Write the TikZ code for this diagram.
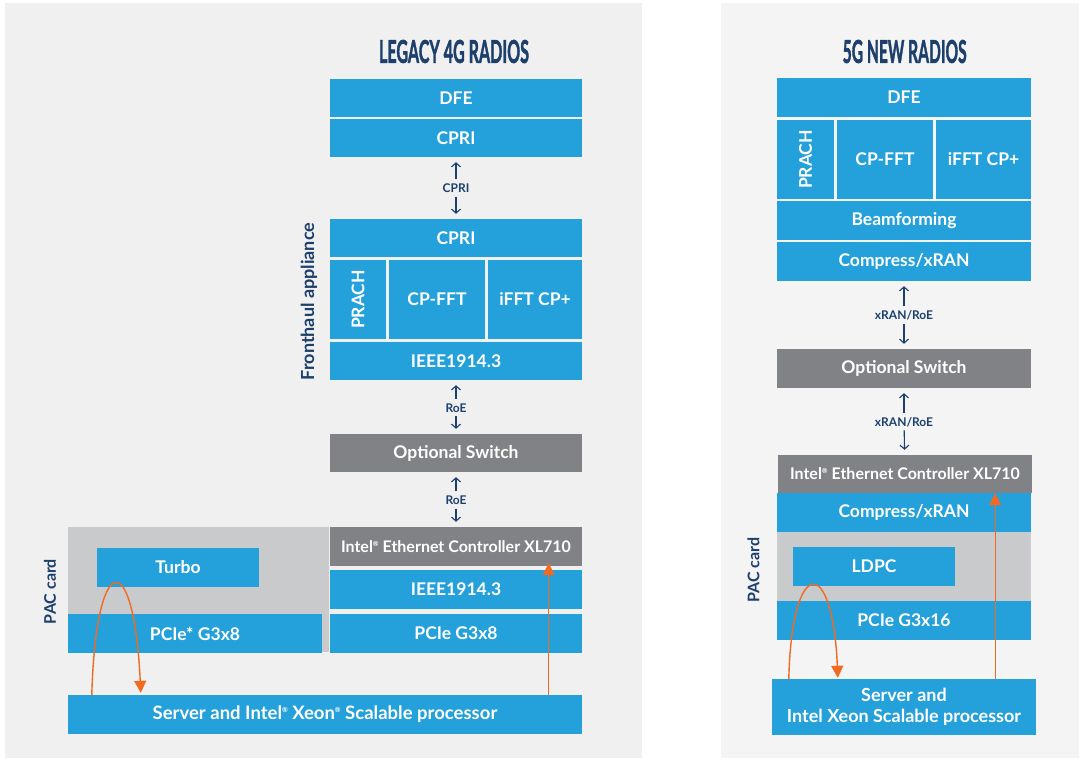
\documentclass[tikz,border=0pt]{standalone}
\usepackage{fontspec}
\setmainfont{Lato}
\newfontfamily\ttlfont[BoldFeatures={FakeBold=2}]{Lato}
\usepackage{graphicx}
\usetikzlibrary{arrows.meta}

\definecolor{fhblue}{HTML}{24A0DA}
\definecolor{fhgray}{HTML}{818285}
\definecolor{pacgray}{HTML}{C9CACC}
\definecolor{fhnavy}{HTML}{1C3F6B}
\definecolor{fhorange}{HTML}{F26A21}
\definecolor{panelL}{HTML}{F0F0F0}
\definecolor{panelR}{HTML}{F4F4F4}

\newcommand{\reg}{\raisebox{0.75ex}{\fontsize{7}{7}\selectfont ®}}

\begin{document}
\begin{tikzpicture}[x=1pt, y=-1pt,
    sz/.style 2 args = {minimum width=#1pt, minimum height=#2pt},
    blk/.style = {fill=fhblue, text=white, inner sep=0pt,
                  font=\bfseries\fontsize{17.5}{21}\selectfont},
    gry/.style = {blk, fill=fhgray},
    pac/.style = {fill=pacgray, inner sep=0pt},
    ttl/.style = {text=fhnavy, inner sep=0pt},
    lbl/.style = {text=fhnavy, inner sep=4pt, text height=9pt, text depth=0pt,
                  font=\bfseries\fontsize{12}{14}\selectfont},
    side/.style = {text=fhnavy, rotate=90, font=\bfseries\fontsize{18}{21}\selectfont},
    link/.style = {draw=fhnavy, line width=1.1pt, shorten >=5pt,
                   -{Straight Barb[length=4pt,width=9pt]}},
    flow/.style = {draw=fhorange, line width=1.4pt,
                   -{Triangle[length=12pt,width=12pt]}}]

    \useasboundingbox (0,0) rectangle (1079,758);
    \fill[white] (0,0) rectangle (1079,758);
    \fill[panelL] (5,3) rectangle (642,758);
    \fill[panelR] (721,3) rectangle (1079,758);

    % legacy 4G
    \node[ttl] (ttlL) at (454,51.5) {\resizebox{150pt}{23pt}{\ttlfont\bfseries LEGACY 4G RADIOS}};
    \node[blk, sz={252}{38}] (dfeL) at (456,98) {DFE};
    \node[blk, sz={252}{38}] (cpriL) at (456,138) {CPRI};
    \node[lbl] (cpriA) at (456,188) {CPRI};
    \node[blk, sz={252}{38}] (cpriFL) at (456,238) {CPRI};
    \node[blk, sz={56}{79}] (prachL) at (358,299.5) {\rotatebox{90}{PRACH}};
    \node[blk, sz={96}{79}] (cpfftL) at (437,299.5) {CP-FFT};
    \node[blk, sz={94}{79}] (ifftL) at (535,299.5) {iFFT CP+};
    \node[blk, sz={252}{38}] (ieeeL) at (456,361) {IEEE1914.3};
    \node[lbl] (roeA) at (456,407.5) {RoE};
    \node[gry, sz={252}{38}] (switchL) at (456,453) {Optional Switch};
    \node[lbl] (roeB) at (456,500) {RoE};
    \node[side] (fronthaul) at (309,301.5) {Fronthaul appliance};

    \node[pac, sz={261}{125}] (pacL) at (198.5,589.5) {};
    \node[blk, sz={162}{39}] (turbo) at (178,567.5) {Turbo};
    \node[blk, sz={254}{39}] (pcieS) at (195,633.5) {PCIe* G3x8};
    \node[gry, sz={252}{39}, font=\bfseries\fontsize{16}{19}\selectfont] (ethL) at (456,546.5)
        {Intel\reg{} Ethernet Controller XL710};
    \node[blk, sz={252}{39}] (ieee2L) at (456,589.5) {IEEE1914.3};
    \node[blk, sz={252}{39}] (pcieL) at (456,633.5) {PCIe G3x8};
    \node[blk, sz={514}{39}, font=\bfseries\fontsize{18.5}{21}\selectfont] (serverL) at (325,714.5)
        {Server and Intel\reg{} Xeon\reg{} Scalable processor};
    \node[side, font=\bfseries\fontsize{16}{19}\selectfont] (pacLbl) at (50,591.5) {PAC card};

    % 5G NR
    \node[ttl] (ttlR) at (904.7,51.5) {\resizebox{124pt}{23pt}{\ttlfont\bfseries 5G NEW RADIOS}};
    \node[blk, sz={254}{39}] (dfeR) at (904,97.5) {DFE};
    \node[blk, sz={57}{79}] (prachR) at (805.5,159.5) {\rotatebox{90}{PRACH}};
    \node[blk, sz={96}{79}] (cpfftR) at (885,159.5) {CP-FFT};
    \node[blk, sz={95}{79}] (ifftR) at (983.5,159.5) {iFFT CP+};
    \node[blk, sz={254}{39}] (beamR) at (904,220.5) {Beamforming};
    \node[blk, sz={254}{39}] (compR) at (904,261.5) {Compress/xRAN};
    \node[lbl] (xranA) at (904,315) {xRAN/RoE};
    \node[gry, sz={254}{39}] (switchR) at (904,368.5) {Optional Switch};
    \node[lbl] (xranB) at (904,421.5) {xRAN/RoE};
    \node[gry, sz={254}{38}, font=\bfseries\fontsize{16}{19}\selectfont] (ethR) at (905,474)
        {Intel\reg{} Ethernet Controller XL710};
    \node[blk, sz={254}{39}] (comp2R) at (904,512.5) {Compress/xRAN};
    \node[pac, sz={254}{69}] (pacR) at (904,566.5) {};
    \node[blk, sz={162}{39}] (ldpc) at (874,566.5) {LDPC};
    \node[blk, sz={254}{39}] (pcieR) at (904,620.5) {PCIe G3x16};
    \node[blk, sz={264}{56}, align=center, font=\bfseries\fontsize{18}{20.5}\selectfont] (serverR)
        at (904,707) {Server and\\Intel Xeon Scalable processor};
    \node[side, font=\bfseries\fontsize{16}{19}\selectfont] (pacRLbl) at (753.5,570) {PAC card};

    % links
    \draw[link] (cpriA) -- (cpriL);
    \draw[link] (cpriA) -- (cpriFL);
    \draw[link] (roeA) -- (ieeeL);
    \draw[link] (roeA) -- (switchL);
    \draw[link] (roeB) -- (switchL);
    \draw[link] (roeB) -- (ethL);
    \draw[link] (xranA) -- (compR);
    \draw[link] (xranA) -- (switchR);
    \draw[link] (xranB) -- (switchR);
    \draw[link] (xranB) -- (ethR);

    % data flow
    \draw[flow] ([xshift=24pt]serverL.north west)
        .. controls +(4pt,145pt) and +(-7pt,148pt) .. ([xshift=73pt,yshift=2pt]serverL.north west);
    \draw[flow] ([xshift=-33.5pt]serverL.north east) -- ([xshift=-33.5pt,yshift=3pt]ethL.south east);
    \draw[flow] ([xshift=17pt]serverR.north west)
        .. controls +(3pt,124pt) and +(-5pt,123pt) .. ([xshift=66pt,yshift=1pt]serverR.north west);
    \draw[flow] ([xshift=-41pt]serverR.north east) -- ([xshift=-41pt]serverR.north east |- ethR.south);
\end{tikzpicture}
\end{document}
